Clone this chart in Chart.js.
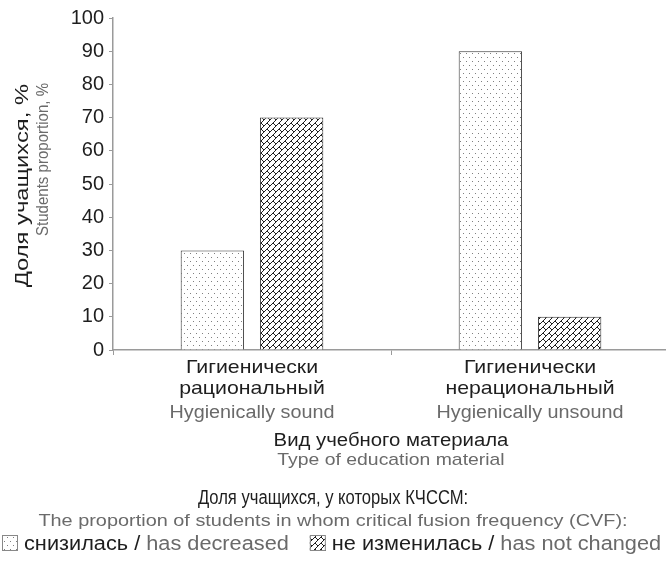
<!DOCTYPE html>
<html><head><meta charset="utf-8">
<script src="https://cdn.jsdelivr.net/npm/chart.js@4"></script>
<style>html,body{margin:0;padding:0;background:#fff;overflow:hidden}
#wrap{width:670px;height:561px;position:relative}</style>
</head><body><div id="wrap"><canvas id="c"></canvas></div>
<script>
const categories = [['Гигиенически','рациональный'],['Гигиенически','нерациональный']];
const categoriesEn = ['Hygienically sound','Hygienically unsound'];
const seriesNames = ['снизилась','не изменилась'];
const seriesNamesEn = ['has decreased','has not changed'];
const decreased = [30, 90];
const notChanged = [70, 10];
const yTicks = [0,10,20,30,40,50,60,70,80,90,100];
const yTitle = 'Доля учащихся, %';
const yTitleEn = 'Students proportion, %';
const xTitle = 'Вид учебного материала';
const xTitleEn = 'Type of education material';
const legendTitle = 'Доля учащихся, у которых КЧССМ:';
const legendTitleEn = 'The proportion of students in whom critical fusion frequency (CVF):';

const FONT = '"Liberation Sans", Arial, sans-serif';
const BLACK = '#1e1e1e', GRAY = '#6a6a6a';

function dotPattern(ctx0){
  const c = document.createElement('canvas'); c.width = 6; c.height = 8;
  const g = c.getContext('2d');
  g.fillStyle = '#fff'; g.fillRect(0,0,6,8);
  g.fillStyle = '#808080';
  g.fillRect(1,1,1,1); g.fillRect(4,5,1,1);
  return ctx0.createPattern(c,'repeat');
}
function brickPattern(ctx0){
  const T = 12, k = T/10;
  const c = document.createElement('canvas'); c.width = T; c.height = T;
  const g = c.getContext('2d');
  g.fillStyle = '#fff'; g.fillRect(0,0,T,T);
  g.strokeStyle = '#202020'; g.lineWidth = 1;
  g.beginPath();
  for (let cc = -10; cc <= 30; cc += 5){ g.moveTo((cc+10)*k,-10*k); g.lineTo((cc-20)*k,20*k); }
  const bars = [[2.5,2.5,5,5],[7.5,-2.5,10,0],[2.5,-2.5,5,0],[7.5,2.5,10,5]];
  for (const [x1,y1,x2,y2] of bars){
    for (const dx of [-10,0,10]) for (const dy of [-10,0,10]){
      g.moveTo((x1+dx)*k,(y1+dy)*k); g.lineTo((x2+dx)*k,(y2+dy)*k);
    }
  }
  g.stroke();
  return ctx0.createPattern(c,'repeat');
}

function drawText(ctx, s, x, y, size, color, align, sx){
  ctx.save();
  ctx.font = size + 'px ' + FONT;
  ctx.fillStyle = color;
  ctx.textAlign = align || 'center';
  ctx.textBaseline = 'alphabetic';
  ctx.translate(x, y); ctx.scale(sx, 1);
  ctx.fillText(s, 0, 0);
  ctx.restore();
}
function measure(ctx, s, size, sx){
  ctx.save(); ctx.font = size + 'px ' + FONT;
  const w = ctx.measureText(s).width * sx;
  ctx.restore(); return w;
}

const textPlugin = {
  id: 'texts',
  afterDraw(chart){
    const ctx = chart.ctx;
    const xs = chart.scales.x, area = chart.chartArea;
    categories.forEach((lines, i) => {
      const cx = xs.getPixelForTick(i);
      drawText(ctx, lines[0], cx, 373, 19, BLACK, 'center', 1.12);
      drawText(ctx, lines[1], cx, 394, 19, BLACK, 'center', 1.12);
      drawText(ctx, categoriesEn[i], cx, 418, 18, GRAY, 'center', 1.1);
    });
    const mid = (area.left + area.right) / 2;
    drawText(ctx, xTitle, mid, 446, 18, BLACK, 'center', 1.13);
    drawText(ctx, xTitleEn, mid, 465, 17, GRAY, 'center', 1.14);
    ctx.save();
    ctx.translate(28, 84); ctx.rotate(-Math.PI/2);
    drawText(ctx, yTitle, 0, 0, 19, BLACK, 'right', 1.25);
    ctx.restore();
    ctx.save();
    ctx.translate(48, 83); ctx.rotate(-Math.PI/2);
    drawText(ctx, yTitleEn, 0, 0, 16, GRAY, 'right', 0.94);
    ctx.restore();
    const lc = 333;
    drawText(ctx, legendTitle, lc, 504, 20, BLACK, 'center', 0.83);
    drawText(ctx, legendTitleEn, lc, 526, 17, GRAY, 'center', 1.17);
    const ds = chart.data.datasets;
    const LS = 20, LX = 1.087;
    const box = 16, gapBox = 6, gapItem = 21;
    let x = 2;
    const by = 550;
    ds.forEach((d, i) => {
      ctx.save();
      ctx.fillStyle = d.backgroundColor;
      ctx.fillRect(x, by-15, box, box);
      ctx.strokeStyle = '#888'; ctx.lineWidth = 1;
      ctx.strokeRect(x+0.5, by-14.5, box-1, box-1);
      ctx.restore();
      x += box + gapBox;
      drawText(ctx, seriesNames[i], x, by, LS, BLACK, 'left', LX); x += measure(ctx, seriesNames[i], LS, LX);
      drawText(ctx, ' / ', x, by, LS, BLACK, 'left', LX); x += measure(ctx, ' / ', LS, LX);
      drawText(ctx, seriesNamesEn[i], x, by, LS, GRAY, 'left', LX); x += measure(ctx, seriesNamesEn[i], LS, LX);
      x += gapItem;
    });
  }
};

const canvas = document.getElementById('c');
const ctx0 = canvas.getContext('2d');

new Chart(canvas, {
  type: 'bar',
  data: {
    labels: categories,
    datasets: [
      { label: seriesNames[0], data: decreased, backgroundColor: dotPattern(ctx0),
        borderColor: '#333', borderWidth: 1, categoryPercentage: 0.57, barPercentage: 0.8 },
      { label: seriesNames[1], data: notChanged, backgroundColor: brickPattern(ctx0),
        borderColor: '#333', borderWidth: 1, categoryPercentage: 0.57, barPercentage: 0.8 }
    ]
  },
  options: {
    responsive: true, maintainAspectRatio: false, animation: false,
    devicePixelRatio: 1,
    layout: { padding: { top: 18, right: 1, left: 0, bottom: 0 } },
    plugins: { legend: { display: false }, tooltip: { enabled: false }, title: { display: false } },
    scales: {
      x: {
        offset: true,
        grid: { display: true, offset: true, drawOnChartArea: false, drawTicks: true, tickLength: 5, color: '#9a9a9a' },
        border: { display: true, color: '#9a9a9a', width: 1.5 },
        ticks: { display: false },
        afterFit(s){ s.height = 211; }
      },
      y: {
        min: 0, max: 100,
        afterBuildTicks(s){ s.ticks = yTicks.map(v => ({ value: v })); },
        grid: { display: true, drawOnChartArea: false, drawTicks: true, tickLength: 4, color: '#9a9a9a' },
        border: { display: true, color: '#9a9a9a', width: 1.5 },
        ticks: { color: BLACK, font: { family: FONT, size: 20 }, padding: 5 },
        afterFit(s){ s.width = 113; }
      }
    }
  },
  plugins: [textPlugin]
});
</script>
</body></html>
